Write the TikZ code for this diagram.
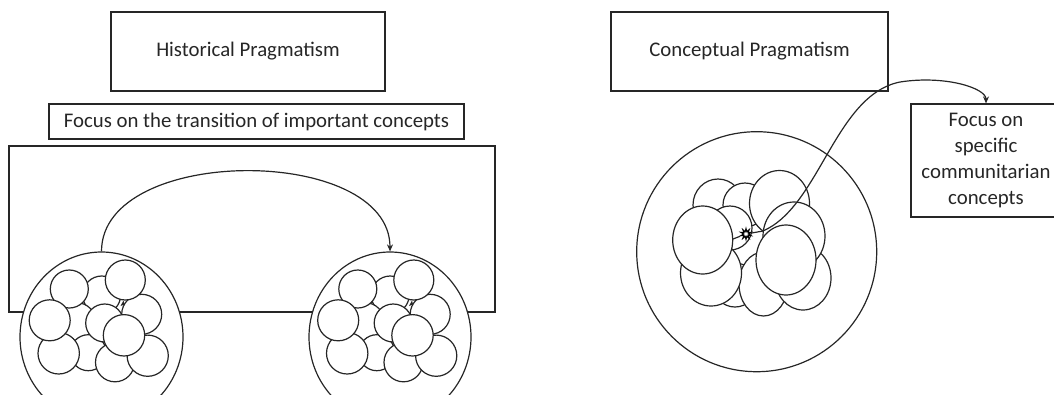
\documentclass[tikz,border=0pt]{standalone}
\usepackage{fontspec}
\setmainfont{Carlito}
\usetikzlibrary{shapes.geometric,arrows.meta}
\tikzset{
  ln/.style={line width=1.2pt, draw=black!85},
  txtbox/.style={ln, rectangle, inner sep=0pt, font=\fontsize{20.8}{26}\selectfont, text=black!85},
  bubble/.style={ln, fill=white},
  arr/.style={ln, -{Stealth[length=7pt,width=6pt]}}
}
\newcommand{\mycluster}{%
  \foreach \cx/\cy/\cr in {101.7/295/19, 76.7/321.7/19, 88.3/352.7/18, 104.7/323/19,
      69.3/289/19, 58.7/353.3/20.7, 115/362.3/19.5, 147.7/355.7/20.6, 141.7/314.3/20,
      125.3/280/20, 49.7/320.3/20.5, 124/335.3/20.7}
    {\draw[bubble] (\cx,\cy) circle[radius=\cr];}
  \fill[black!85] (120.5,306) -- (123.5,300.5) -- (124.5,304.5) -- cycle;
}
\begin{document}
\begin{tikzpicture}[x=1pt,y=-1pt]
\useasboundingbox (0,0) rectangle (1054,394);
\clip (0,0) rectangle (1054,394);
% left part
\node[txtbox, minimum width=274pt, minimum height=79pt] (hist) at (248,51.5) {Historical Pragmatism};
\node[txtbox, minimum width=415pt, minimum height=35pt] (trans) at (256.5,121.5) {Focus on the transition of important concepts};
\node[ln, rectangle, minimum width=486pt, minimum height=166pt, inner sep=0pt] (frame) at (252,229) {};
\node[bubble, ellipse, minimum width=163pt, minimum height=170pt, inner sep=0pt] (lw) at (101.5,337) {};
\node[bubble, ellipse, minimum width=162pt, minimum height=170pt, inner sep=0pt] (rw) at (390,337) {};
\mycluster
\begin{scope}[xshift=288.5pt]
\mycluster
\end{scope}
\draw[arr] (lw.north) .. controls +(0,-107) and +(0,-107) .. (rw.north);
% right part
\node[txtbox, minimum width=277pt, minimum height=79pt] (conc) at (749.5,51.5) {Conceptual Pragmatism};
\node[ln, circle, minimum size=240pt, inner sep=0pt] (bc) at (756.7,251.7) {};
\foreach \cx/\cy/\rx/\ry in {718/205/25/26, 745/205/22/22, 730/228/22/22, 735/285/22/22,
    763.5/284/24.5/32, 711/273/30.5/33, 702.7/240/30/34, 803/278/28/32,
    779.5/203.5/30/33, 794/236/31/34, 786/260/30/35}
  {\draw[bubble] (\cx,\cy) ellipse[x radius=\rx, y radius=\ry];}
\node[txtbox, minimum width=150pt, minimum height=113pt, align=center] (cb) at (986,160.5) {Focus on\\specific\\communitarian\\concepts};
\coordinate (bend) at (763,231);
\coordinate (peak) at (900,82);
\node[star, star points=10, star point ratio=2.2, minimum size=11pt, inner sep=0pt, draw, fill=white, line width=1pt] (st) at (746,234) {};
\draw[ln] (st) -- (733,239);
\draw[arr] (st) -- (bend) .. controls (820,206) and (835,95) .. (peak) .. controls (945,75) and (986,88) .. (cb.north);
\end{tikzpicture}
\end{document}
